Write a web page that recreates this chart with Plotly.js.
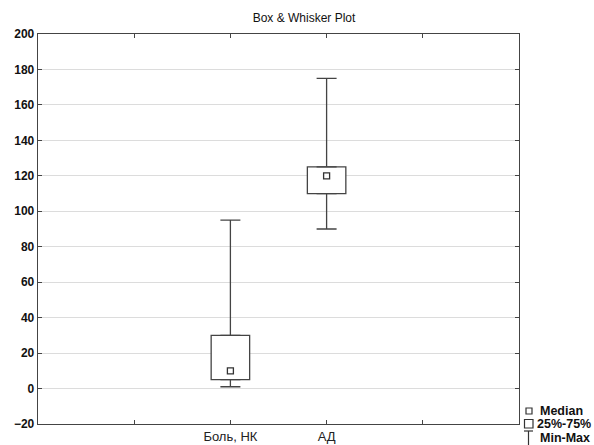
<!DOCTYPE html>
<html>
<head>
<meta charset="utf-8">
<script src="https://cdn.plot.ly/plotly-3.0.1.min.js"></script>
<style>html,body{margin:0;padding:0;background:#fff;}#chart{width:594px;height:445px;}</style>
</head>
<body>
<div id="chart"></div>
<script>
// Data
var categories = ['Боль, НК', 'АД'];
var minVals    = [1, 90];
var q1Vals     = [5, 110];
var medianVals = [10, 120];
var q3Vals     = [30, 125];
var maxVals    = [95, 175];
var yTicks     = [-20, 0, 20, 40, 60, 80, 100, 120, 140, 160, 180, 200];
var legendLabels = ['Median', '25%-75%', 'Min-Max'];

var positions = categories.map(function (c, i) { return i + 2; });
var lineCol = '#444';
var font = 'Liberation Sans, Arial, sans-serif';

// upper whiskers (Q3 -> Max)
var upperWhisker = {
  type: 'scatter', mode: 'markers',
  x: positions, y: q3Vals,
  marker: { size: 1, opacity: 0 },
  error_y: {
    type: 'data', symmetric: false,
    array: maxVals.map(function (v, i) { return v - q3Vals[i]; }),
    arrayminus: q3Vals.map(function () { return 0; }),
    width: 10, thickness: 1.3, color: lineCol
  },
  hoverinfo: 'skip', showlegend: false
};
// lower whiskers (Q1 -> Min)
var lowerWhisker = {
  type: 'scatter', mode: 'markers',
  x: positions, y: q1Vals,
  marker: { size: 1, opacity: 0 },
  error_y: {
    type: 'data', symmetric: false,
    array: q1Vals.map(function () { return 0; }),
    arrayminus: minVals.map(function (v, i) { return q1Vals[i] - v; }),
    width: 10, thickness: 1.3, color: lineCol
  },
  hoverinfo: 'skip', showlegend: false
};
// boxes (Q1..Q3)
var boxTrace = {
  type: 'bar',
  x: positions,
  base: q1Vals,
  y: q3Vals.map(function (v, i) { return v - q1Vals[i]; }),
  width: 0.4,
  marker: { color: '#ffffff', line: { color: lineCol, width: 1.3 } },
  hoverinfo: 'skip', showlegend: false
};
var medTrace = {
  type: 'scatter', mode: 'markers',
  x: positions, y: medianVals,
  marker: { symbol: 'square-open', size: 6, color: '#333', line: { width: 1.3 } },
  hoverinfo: 'skip', showlegend: false
};

// pixel helpers for legend placement (plot area 38..519 x 34..424)
function px(v) { return (v - 38) / 481; }
function py(v) { return (424 - v) / 390; }

var shapes = [
  { type: 'rect', xref: 'paper', yref: 'paper', x0: px(526), x1: px(532), y0: py(414), y1: py(408), line: { color: '#333', width: 1.2 } },
  { type: 'rect', xref: 'paper', yref: 'paper', x0: px(524.5), x1: px(533), y0: py(428), y1: py(419.5), line: { color: '#333', width: 1.2 } },
  { type: 'line', xref: 'paper', yref: 'paper', x0: px(524), x1: px(533), y0: py(431), y1: py(431), line: { color: '#333', width: 1.2 } },
  { type: 'line', xref: 'paper', yref: 'paper', x0: px(528.5), x1: px(528.5), y0: py(431), y1: py(446), line: { color: '#333', width: 1.2 } }
];

var legY = [410.5, 423.5, 437.5];
var legX = [538, 535, 538];
var annotations = legendLabels.map(function (t, i) {
  return {
    text: t, xref: 'paper', yref: 'paper', x: px(legX[i]), y: py(legY[i]),
    xanchor: 'left', yanchor: 'middle', showarrow: false,
    font: { family: font, size: 12.5, color: '#111', weight: 'bold' }
  };
});

var layout = {
  width: 594, height: 445,
  margin: { l: 38, r: 75, t: 34, b: 21 },
  paper_bgcolor: '#fff', plot_bgcolor: '#fff',
  showlegend: false,
  bargap: 0,
  title: {
    text: 'Box & Whisker Plot',
    xref: 'container', yref: 'container',
    x: 304 / 594, y: 1 - 18 / 445, xanchor: 'center', yanchor: 'middle',
    font: { family: font, size: 12, color: '#111' }
  },
  xaxis: {
    range: [0, 5],
    tickvals: [1, 2, 3, 4],
    ticktext: ['', categories[0], categories[1], ''],
    ticks: 'inside', ticklen: 4, tickcolor: lineCol,
    showline: true, linecolor: lineCol, linewidth: 1.3, mirror: 'ticks',
    showgrid: false, zeroline: false,
    tickfont: { family: font, size: 13, color: '#222' }
  },
  yaxis: {
    range: [-20, 200],
    tickvals: yTicks,
    ticks: 'inside', ticklen: 4, tickcolor: lineCol,
    showline: true, linecolor: lineCol, linewidth: 1.3, mirror: 'ticks',
    showgrid: true, gridcolor: '#dcdcdc', gridwidth: 1,
    zeroline: false,
    tickfont: { family: font, size: 12, color: '#111', weight: 'bold' }
  },
  shapes: shapes,
  annotations: annotations
};

Plotly.newPlot('chart', [boxTrace, upperWhisker, lowerWhisker, medTrace], layout, { staticPlot: true, displayModeBar: false });
</script>
</body>
</html>
